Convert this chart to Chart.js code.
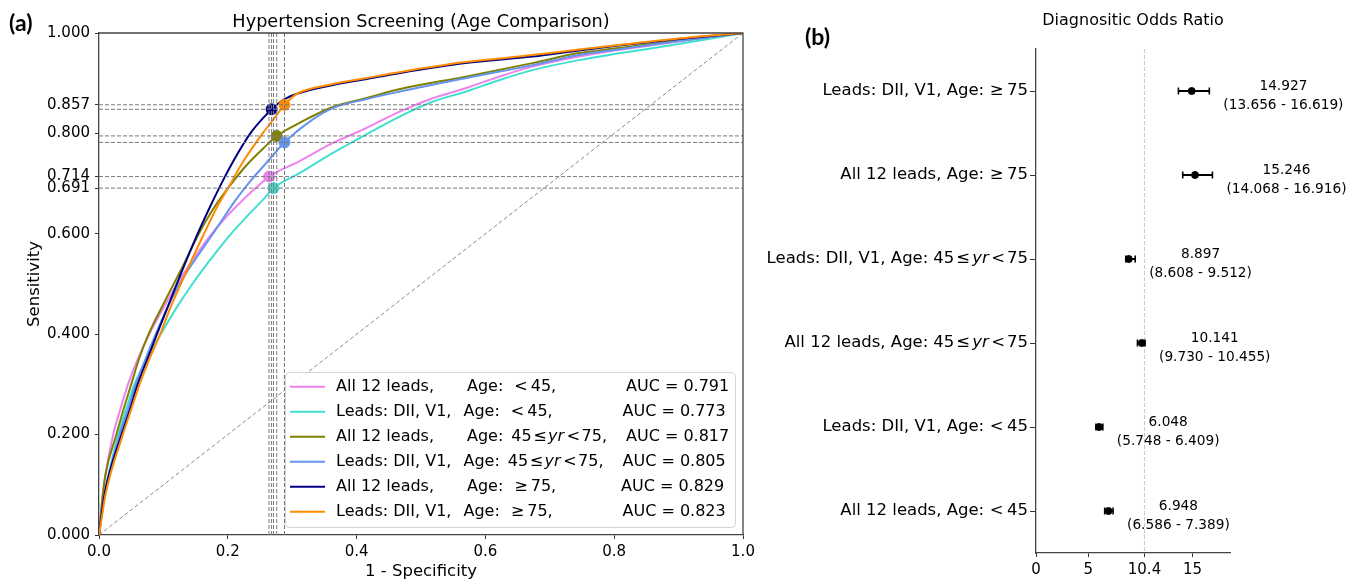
<!DOCTYPE html>
<html><head><meta charset="utf-8">
<script src="https://cdn.jsdelivr.net/npm/chart.js@4.4.1/dist/chart.umd.min.js"></script>
<style>
html,body{margin:0;padding:0;background:#fff;}
#wrap{position:relative;width:1362px;height:585px;overflow:hidden;background:#fff;}
#ca{position:absolute;left:0;top:0;}
#cb{position:absolute;left:760px;top:0;}
</style></head><body>
<div id="wrap"><canvas id="ca" width="760" height="585"></canvas><canvas id="cb" width="602" height="585"></canvas></div>
<script>
// ---------- Panel (a) data: ROC curves (1 - specificity, sensitivity) ----------
const fprAll12Lt45 = [0,0.005,0.01,0.022,0.033,0.045,0.06,0.078,0.1,0.12,0.145,0.17,0.197,0.223,0.245,0.264,0.31,0.362,0.414,0.466,0.518,0.569,0.621,0.673,0.745,0.8,0.9,1];
const tprAll12Lt45 = [0,0.07,0.12,0.2,0.25,0.3,0.35,0.4,0.452,0.497,0.547,0.592,0.633,0.667,0.693,0.714,0.744,0.78,0.81,0.843,0.87,0.89,0.913,0.933,0.953,0.965,0.983,1];
const fprLeadsLt45 = [0,0.005,0.01,0.03,0.042,0.055,0.075,0.096,0.12,0.145,0.175,0.205,0.23,0.254,0.271,0.31,0.362,0.414,0.466,0.518,0.569,0.621,0.673,0.745,0.8,0.9,1];
const tprLeadsLt45 = [0,0.05,0.09,0.2,0.25,0.3,0.35,0.4,0.452,0.5,0.552,0.6,0.635,0.667,0.691,0.72,0.76,0.797,0.833,0.863,0.883,0.906,0.926,0.946,0.958,0.978,1];
const fprAll12Mid = [0,0.005,0.01,0.027,0.038,0.05,0.062,0.077,0.104,0.13,0.155,0.179,0.204,0.228,0.255,0.276,0.31,0.362,0.414,0.466,0.569,0.673,0.745,0.8,0.9,1];
const tprAll12Mid = [0,0.07,0.12,0.2,0.25,0.3,0.35,0.4,0.47,0.535,0.6,0.653,0.697,0.735,0.77,0.795,0.82,0.852,0.87,0.888,0.913,0.94,0.96,0.969,0.985,1];
const fprLeadsMid = [0,0.005,0.01,0.032,0.045,0.057,0.072,0.088,0.105,0.125,0.15,0.177,0.212,0.235,0.259,0.288,0.331,0.362,0.414,0.466,0.569,0.673,0.745,0.8,0.9,1];
const tprLeadsMid = [0,0.05,0.09,0.2,0.25,0.3,0.35,0.4,0.45,0.5,0.55,0.6,0.667,0.705,0.74,0.782,0.827,0.85,0.868,0.883,0.91,0.936,0.956,0.966,0.984,1];
const fprAll12Ge75 = [0,0.005,0.01,0.035,0.048,0.06,0.075,0.09,0.111,0.127,0.148,0.171,0.19,0.21,0.235,0.258,0.268,0.285,0.31,0.362,0.414,0.466,0.569,0.673,0.745,0.8,0.9,1];
const tprAll12Ge75 = [0,0.05,0.09,0.2,0.25,0.3,0.35,0.4,0.468,0.52,0.585,0.65,0.7,0.748,0.8,0.835,0.848,0.866,0.88,0.896,0.908,0.92,0.94,0.953,0.965,0.974,0.988,1];
const fprLeadsGe75 = [0,0.005,0.01,0.037,0.05,0.063,0.078,0.095,0.11,0.127,0.163,0.184,0.2,0.222,0.254,0.272,0.288,0.3,0.31,0.362,0.414,0.466,0.569,0.673,0.745,0.8,0.9,1];
const tprLeadsGe75 = [0,0.04,0.08,0.2,0.25,0.3,0.35,0.4,0.45,0.5,0.6,0.655,0.69,0.74,0.8,0.83,0.857,0.872,0.881,0.898,0.91,0.922,0.942,0.956,0.967,0.975,0.989,1];

// operating points (one per series, same order as legend)
const opFpr = [0.264, 0.271, 0.276, 0.288, 0.268, 0.288];
const opTpr = [0.714, 0.691, 0.795, 0.782, 0.848, 0.857];

// legend content
const legendLeads = ['All 12 leads,', 'Leads: DII, V1,', 'All 12 leads,', 'Leads: DII, V1,', 'All 12 leads,', 'Leads: DII, V1,'];
const legendAges = ['lt45', 'lt45', 'mid', 'mid', 'ge75', 'ge75'];
const aucValues = [0.791, 0.773, 0.817, 0.805, 0.829, 0.823];

// axis ticks
const yTicksA = [0, 0.2, 0.4, 0.6, 0.691, 0.714, 0.8, 0.857, 1.0];
const xTicksA = [0, 0.2, 0.4, 0.6, 0.8, 1.0];

// ---------- Panel (b) data: diagnostic odds ratio ----------
const dorLeads = ['Leads: DII, V1,', 'All 12 leads,', 'Leads: DII, V1,', 'All 12 leads,', 'Leads: DII, V1,', 'All 12 leads,'];
const dorAges = ['ge75', 'ge75', 'mid', 'mid', 'lt45', 'lt45'];
const dorValues = [14.927, 15.246, 8.897, 10.141, 6.048, 6.948];
const dorLow = [13.656, 14.068, 8.608, 9.730, 5.748, 6.586];
const dorHigh = [16.619, 16.916, 9.512, 10.455, 6.409, 7.389];
const dorReference = 10.4;
const xTicksB = [0, 5, 10.4, 15];
const xMaxB = 18.6;

// ---------- styling ----------
const FF = "'DejaVu Sans', sans-serif";
Chart.defaults.font.family = FF;
Chart.defaults.color = '#000';
const colors = ['#EE82EE', '#40E0D0', '#808000', '#6495ED', '#000080', '#FF8C00'];
const drawOrder = [6, 5, 4, 3, 2, 1];

const curves = [
  [fprAll12Lt45, tprAll12Lt45], [fprLeadsLt45, tprLeadsLt45],
  [fprAll12Mid, tprAll12Mid], [fprLeadsMid, tprLeadsMid],
  [fprAll12Ge75, tprAll12Ge75], [fprLeadsGe75, tprLeadsGe75]
];

const ageSegsLegend = {
  lt45: ['Age:', 11, '<', 3, '45,'],
  mid: ['Age:', 8, '45', 1.5, '\u2264', 1.5, {it: 'yr'}, 2.5, '<', 1.5, '75,'],
  ge75: ['Age:', 11, '\u2265', 3, '75,']
};
const ageSegsAxis = {
  lt45: ['Age:', 5.5, '<', 3.5, '45'],
  mid: ['Age:', 5, '45', 2, '\u2264', 2, {it: 'yr'}, 2.5, '<', 2, '75'],
  ge75: ['Age:', 5.5, '\u2265', 3.5, '75']
};

function segFont(s, size) { return (s && s.it ? 'italic ' : '') + size + 'px ' + FF; }
function segText(s) { return typeof s === 'string' ? s : s.it; }
function richWidth(ctx, segs, size) {
  let w = 0;
  for (const s of segs) {
    if (typeof s === 'number') { w += s; continue; }
    ctx.font = segFont(s, size); w += ctx.measureText(segText(s)).width;
  }
  return w;
}
function drawRich(ctx, segs, x, y, size, align) {
  const w = richWidth(ctx, segs, size);
  let cx = align === 'right' ? x - w : x;
  ctx.textAlign = 'left'; ctx.textBaseline = 'middle';
  for (const s of segs) {
    if (typeof s === 'number') { cx += s; continue; }
    ctx.font = segFont(s, size);
    const t = segText(s);
    ctx.fillText(t, cx, y);
    cx += ctx.measureText(t).width;
  }
}

// ---------- Panel (a) ----------
const datasetsA = curves.map((c, i) => ({
  data: c[0].map((v, k) => ({x: v, y: c[1][k]})),
  showLine: true, borderColor: colors[i], borderWidth: 2, pointRadius: 0,
  cubicInterpolationMode: 'monotone', order: drawOrder[i]
}));
datasetsA.push({
  data: opFpr.map((v, i) => ({x: v, y: opTpr[i]})),
  showLine: false, pointRadius: 5.5, pointBackgroundColor: colors, pointBorderColor: colors,
  pointBorderWidth: 1, order: 0
});
datasetsA.push({
  data: [{x: 0, y: 0}, {x: 1, y: 1}], showLine: true, borderColor: '#8a8a8a', borderWidth: 1,
  borderDash: [4, 2.5], pointRadius: 0, order: 10
});

const plugA = {
  id: 'plugA',
  afterDatasetsDraw(chart) {
    const {ctx, chartArea: ca, scales: {x, y}} = chart;
    ctx.save();
    ctx.beginPath(); ctx.rect(ca.left, ca.top, ca.right - ca.left, ca.bottom - ca.top); ctx.clip();
    ctx.strokeStyle = '#7a7a7a'; ctx.lineWidth = 1; ctx.setLineDash([4, 2]);
    opFpr.forEach(v => {
      const px = x.getPixelForValue(v);
      ctx.beginPath(); ctx.moveTo(px, ca.top); ctx.lineTo(px, ca.bottom); ctx.stroke();
    });
    opTpr.forEach(v => {
      const py = y.getPixelForValue(v);
      ctx.beginPath(); ctx.moveTo(ca.left, py); ctx.lineTo(ca.right, py); ctx.stroke();
    });
    ctx.restore();
  },
  afterDraw(chart) {
    const {ctx, chartArea: ca} = chart;
    ctx.save();
    ctx.setLineDash([]);
    // top & right spines
    ctx.strokeStyle = '#444'; ctx.lineWidth = 1.3;
    ctx.beginPath(); ctx.moveTo(ca.left, ca.top); ctx.lineTo(ca.right, ca.top); ctx.lineTo(ca.right, ca.bottom); ctx.stroke();
    // legend
    const lx = 285.5, ly = 372.5, lw = 450, lh = 155;
    ctx.beginPath(); ctx.roundRect(lx, ly, lw, lh, 4);
    ctx.fillStyle = 'rgba(255,255,255,0.85)'; ctx.fill();
    ctx.strokeStyle = '#d4d4d4'; ctx.lineWidth = 1; ctx.stroke();
    const aucX = [626, 622.5, 626, 622.5, 621, 622.5];
    for (let i = 0; i < 6; i++) {
      const yy = 386.7 + 25 * i;
      ctx.strokeStyle = colors[i]; ctx.lineWidth = 2;
      ctx.beginPath(); ctx.moveTo(290, yy); ctx.lineTo(325, yy); ctx.stroke();
      ctx.fillStyle = '#000';
      drawRich(ctx, [legendLeads[i]], 336, yy, 16, 'left');
      drawRich(ctx, ageSegsLegend[legendAges[i]], i % 2 === 0 ? 467 : 463.5, yy, 16, 'left');
      drawRich(ctx, ['AUC = ' + aucValues[i].toFixed(3)], aucX[i], yy, 16, 'left');
    }
    // titles
    ctx.fillStyle = '#000';
    ctx.font = '17.7px ' + FF; ctx.textAlign = 'center'; ctx.textBaseline = 'alphabetic';
    ctx.fillText('Hypertension Screening (Age Comparison)', (ca.left + ca.right) / 2, 27);
    ctx.font = '16.5px ' + FF; ctx.textBaseline = 'middle';
    ctx.fillText('1 - Specificity', (ca.left + ca.right) / 2, 572);
    ctx.save(); ctx.translate(35, (ca.top + ca.bottom) / 2); ctx.rotate(-Math.PI / 2);
    ctx.fillText('Sensitivity', 0, 0); ctx.restore();
    ctx.font = 'bold 23px Lato, ' + FF; ctx.textAlign = 'left'; ctx.textBaseline = 'alphabetic';
    ctx.fillText('(a)', 9, 31);
    ctx.restore();
  }
};

new Chart(document.getElementById('ca'), {
  type: 'scatter',
  data: {datasets: datasetsA},
  options: {
    responsive: false, animation: false, devicePixelRatio: 1, events: [],
    layout: {padding: {left: 0, top: 33, right: 17, bottom: 0}},
    plugins: {legend: {display: false}, tooltip: {enabled: false}},
    scales: {
      x: {
        type: 'linear', min: 0, max: 1,
        afterBuildTicks: s => { s.ticks = xTicksA.map(v => ({value: v})); },
        afterFit: s => { s.height = 50; },
        ticks: {callback: v => Number(v).toFixed(1), font: {size: 15}, color: '#000', padding: 4, maxRotation: 0, autoSkip: false},
        grid: {display: true, drawOnChartArea: false, drawTicks: true, tickLength: 4, color: '#333'},
        border: {display: true, color: '#444', width: 1.3}
      },
      y: {
        type: 'linear', min: 0, max: 1,
        afterBuildTicks: s => { s.ticks = yTicksA.map(v => ({value: v})); },
        afterFit: s => { s.width = 99; },
        ticks: {callback: v => Number(v).toFixed(3), font: {size: 15}, color: '#000', padding: 5, autoSkip: false},
        grid: {display: true, drawOnChartArea: false, drawTicks: true, tickLength: 4, color: '#333'},
        border: {display: true, color: '#444', width: 1.3}
      }
    }
  },
  plugins: [plugA]
});

// ---------- Panel (b) ----------
const plugB = {
  id: 'plugB',
  beforeDatasetsDraw(chart) {
    const {ctx, chartArea: ca, scales: {x, y}} = chart;
    ctx.save();
    ctx.strokeStyle = '#c8c8c8'; ctx.lineWidth = 1; ctx.setLineDash([4, 2]);
    const rx = x.getPixelForValue(dorReference);
    ctx.beginPath(); ctx.moveTo(rx, ca.top); ctx.lineTo(rx, ca.bottom); ctx.stroke();
    ctx.setLineDash([]);
    ctx.strokeStyle = '#000';
    for (let i = 0; i < dorValues.length; i++) {
      const py = y.getPixelForValue(i);
      const x1 = x.getPixelForValue(dorLow[i]), x2 = x.getPixelForValue(dorHigh[i]);
      ctx.lineWidth = 2;
      ctx.beginPath(); ctx.moveTo(x1, py); ctx.lineTo(x2, py); ctx.stroke();
      ctx.lineWidth = 1.6;
      ctx.beginPath(); ctx.moveTo(x1, py - 3.5); ctx.lineTo(x1, py + 3.5);
      ctx.moveTo(x2, py - 3.5); ctx.lineTo(x2, py + 3.5); ctx.stroke();
    }
    ctx.restore();
  },
  afterDraw(chart) {
    const {ctx, chartArea: ca, scales: {x, y}} = chart;
    ctx.save();
    ctx.fillStyle = '#000';
    for (let i = 0; i < dorValues.length; i++) {
      const py = y.getPixelForValue(i);
      drawRich(ctx, [dorLeads[i] + ' '].concat(ageSegsAxis[dorAges[i]]), ca.left - 8, py, 16.5, 'right');
      const ci = '(' + dorLow[i].toFixed(3) + ' - ' + dorHigh[i].toFixed(3) + ')';
      ctx.font = '13.7px ' + FF;
      const w = ctx.measureText(ci).width;
      const cx = x.getPixelForValue(dorHigh[i]) + 14 + w / 2;
      ctx.textAlign = 'center'; ctx.textBaseline = 'middle';
      ctx.fillText(dorValues[i].toFixed(3), cx, py - 4.3);
      ctx.fillText(ci, cx, py + 14.2);
    }
    ctx.font = '16px ' + FF; ctx.textAlign = 'center'; ctx.textBaseline = 'alphabetic';
    ctx.fillText('Diagnositic Odds Ratio', (ca.left + ca.right) / 2, 25);
    ctx.font = 'bold 23px Lato, ' + FF; ctx.textAlign = 'left';
    ctx.fillText('(b)', 45, 45);
    ctx.restore();
  }
};

new Chart(document.getElementById('cb'), {
  type: 'scatter',
  data: {datasets: [{
    data: dorValues.map((v, i) => ({x: v, y: i})),
    pointRadius: 3.5, pointBackgroundColor: '#000', pointBorderColor: '#000', showLine: false
  }]},
  options: {
    responsive: false, animation: false, devicePixelRatio: 1, events: [],
    layout: {padding: {left: 0, top: 49, right: 132, bottom: 0}},
    plugins: {legend: {display: false}, tooltip: {enabled: false}},
    scales: {
      x: {
        type: 'linear', min: 0, max: xMaxB,
        afterBuildTicks: s => { s.ticks = xTicksB.map(v => ({value: v})); },
        afterFit: s => { s.height = 32; },
        ticks: {callback: v => String(v), font: {size: 15}, color: '#000', padding: 4, maxRotation: 0, autoSkip: false},
        grid: {display: true, drawOnChartArea: false, drawTicks: true, tickLength: 4, color: '#333'},
        border: {display: true, color: '#444', width: 1.3}
      },
      y: {
        type: 'linear', min: -0.5, max: 5.5, reverse: true,
        afterBuildTicks: s => { s.ticks = dorValues.map((v, i) => ({value: i})); },
        afterFit: s => { s.width = 276; },
        ticks: {display: false},
        grid: {display: true, drawOnChartArea: false, drawTicks: true, tickLength: 6, color: '#333'},
        border: {display: true, color: '#444', width: 1.3}
      }
    }
  },
  plugins: [plugB]
});
</script></body></html>
